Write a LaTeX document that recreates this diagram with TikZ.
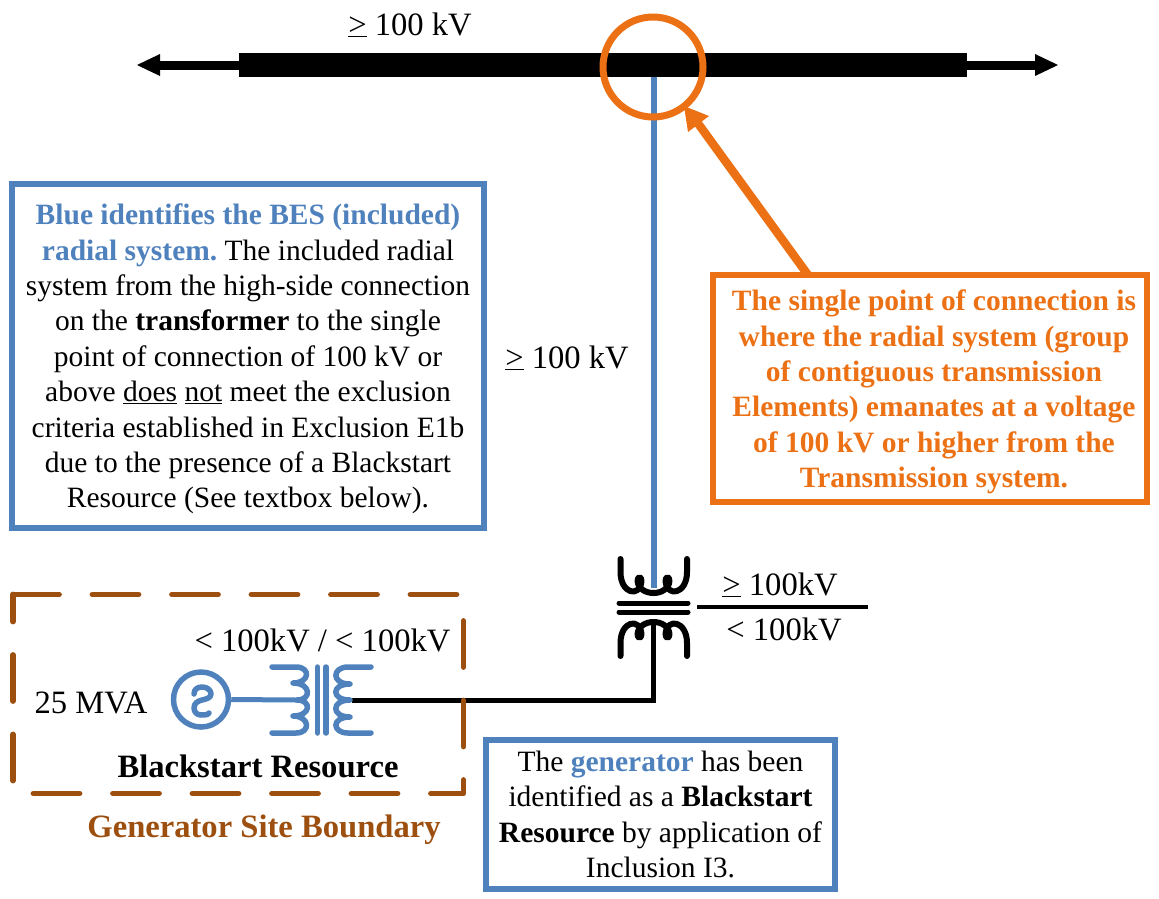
\documentclass[tikz,border=0pt]{standalone}
\usepackage{fontspec}
\usetikzlibrary{calc}
\setmainfont{Liberation Serif}
\frenchspacing
\definecolor{besblue}{HTML}{4F81BD}
\definecolor{oran}{HTML}{EC7014}
\definecolor{brn}{HTML}{9C4F0F}
\newcommand{\gequ}{\underline{>}}
\tikzset{
  txt/.style={font=\fontsize{29.5}{35.4}\selectfont,align=center,inner sep=0pt},
  lbl/.style={font=\fontsize{32.6}{36}\selectfont,align=center,inner sep=0pt,anchor=base},
  boxn/.style={txt,draw,rectangle,inner sep=0pt},
  coilb/.style={line width=5.5pt,line cap=round,line join=round,besblue},
  coilk/.style={line width=6pt,line cap=round,line join=round,black},
}
\begin{document}
\begin{tikzpicture}[x=1pt,y=-1pt]
\useasboundingbox (0,0) rectangle (1159,898);
% bus
\coordinate (busL) at (137,65);
\coordinate (busR) at (1058,65);
\node[fill=black,minimum width=728pt,minimum height=24pt,inner sep=0pt] (bus) at (603,65) {};
\draw[black,line width=9pt] ($(busL)+(15,0)$) -- ($(busR)+(-15,0)$);
\fill[black] (busL) -- ++(23,-11) -- ++(0,22) -- cycle;
\fill[black] (busR) -- ++(-23,-11) -- ++(0,22) -- cycle;
\node[lbl] (top) at (410,35) {\gequ{} 100 kV};
% blue vertical
\coordinate (xfTop) at (653.5,588);
\draw[besblue,line width=6pt] (653.5,77) -- (xfTop);
\node[lbl] (mid) at (567,368) {\gequ{} 100 kV};
% orange circle and arrow
\node[draw=oran,line width=7pt,circle,minimum size=100pt,inner sep=0pt] (ring) at (653,67) {};
\node[boxn,draw=oran,line width=6pt,minimum width=434pt,minimum height=227pt] (obox) at (930,388.5)
 {};
\node[txt,text=oran] (otext) at (934,392)
 {\bfseries The single point of connection is\\\bfseries where the radial system (group\\\bfseries of contiguous transmission\\\bfseries Elements) emanates at a voltage\\\bfseries of 100 kV or higher from the\\\bfseries Transmission system.};
\coordinate (arrTip) at (684,106);
\draw[oran,line width=8.5pt] (808,275) -- (697,122);
\fill[oran] (arrTip) -- (709,116) -- (688,132) -- cycle;
% blue box
\node[boxn,draw=besblue,line width=6pt,minimum width=472pt,minimum height=344pt] (bbox) at (248,356) {};
\node[txt] (btext) at (248,359)
 {{\color{besblue}\bfseries Blue identifies the BES (included)}\\{\color{besblue}\bfseries radial system.} The included radial\\system from the high-side connection\\on the \textbf{transformer} to the single\\point of connection of 100 kV or\\above \underline{does} \underline{not} meet the exclusion\\criteria established in Exclusion E1b\\due to the presence of a Blackstart\\Resource (See textbox below).};
% main transformer
\draw[coilk] (620.5,559) -- (620.5,572) .. controls (620.5,594) and (640,598) .. (641.5,581) .. controls (641.5,576) and (637.5,576) .. (637.5,581) .. controls (639,597) and (668,597) .. (669.5,581) .. controls (669.5,576) and (665.5,576) .. (665.5,581) .. controls (667,598) and (687,594) .. (687,572) -- (687,559);
\draw[black,line width=5pt,line cap=round] (619,603) -- (688,603);
\draw[black,line width=5pt,line cap=round] (619,612) -- (688,612);
\draw[coilk] (620.5,656) -- (620.5,643) .. controls (620.5,621) and (640,617) .. (641.5,634) .. controls (641.5,639) and (637.5,639) .. (637.5,634) .. controls (639,618) and (668,618) .. (669.5,634) .. controls (669.5,639) and (665.5,639) .. (665.5,634) .. controls (667,617) and (687,621) .. (687,643) -- (687,656);
\node[inner sep=0pt,minimum size=0pt] (xfK) at (653.5,625) {};
\draw[black,line width=5pt,line join=miter] (xfK) -- (653.5,700) -- (352,700);
\coordinate (ratL) at (697,607);
\coordinate (ratR) at (868,607);
\draw[black,line width=3.5pt] (ratL) -- (ratR);
\node[lbl] (hv) at (780,595) {\gequ{} 100kV};
\node[lbl] (lv) at (784,640) {< 100kV};
% dashed site
\draw[brn,line width=5.8pt,line cap=round,line join=round,dash pattern=on 46pt off 33.5pt] (13,594.5) -- (463.5,594.5) -- (463.5,793.5) -- (13,793.5) -- cycle;
\node[lbl] (lvlv) at (322.5,651) {< 100kV / < 100kV};
\node[lbl] (mva) at (91,713) {25 MVA};
\node[lbl] (bsr) at (258,777) {\bfseries Blackstart Resource};
\node[lbl,text=brn] (gsb) at (264,837) {\bfseries Generator Site Boundary};
% generator
\node[draw=besblue,line width=5.5pt,circle,minimum size=55pt,inner sep=0pt] (gen) at (201,699.5) {};
\draw[coilb] (194,694) .. controls (194,689) and (198,687) .. (202,687) .. controls (207,687) and (211,690) .. (211,694) .. controls (211,698) and (206,699) .. (202,700) .. controls (198,701) and (194,703) .. (194,708) .. controls (194,712) and (197,715) .. (201,715) .. controls (204,715) and (208,715) .. (209,713);
\coordinate (wireEnd) at (297,700);
\draw[besblue,line width=5pt] (gen.east) -- (wireEnd);
\draw[coilb] (272,667) -- (296,667) .. controls (311,667) and (310,683) .. (293,683) .. controls (311,683) and (312,700) .. (297,700) .. controls (312,700) and (311,716) .. (293,716) .. controls (310,716) and (311,733) .. (296,733) -- (272,733);
\draw[coilb] (317.5,667) -- (317.5,733);
\draw[coilb] (326,667) -- (326,733);
\draw[coilb] (371,667) -- (348,667) .. controls (332,667) and (331,684) .. (350,684) .. controls (331,684) and (331,700) .. (350,700) .. controls (331,700) and (331,717) .. (350,717) .. controls (331,717) and (332,733) .. (348,733) -- (371,733);
% lower text box
\node[boxn,draw=besblue,line width=6pt,minimum width=349pt,minimum height=149pt] (tbox) at (660.5,814.5)
 {The {\color{besblue}\bfseries generator} has been\\identified as a \textbf{Blackstart}\\\textbf{Resource} by application of\\Inclusion I3.};
\end{tikzpicture}
\end{document}
